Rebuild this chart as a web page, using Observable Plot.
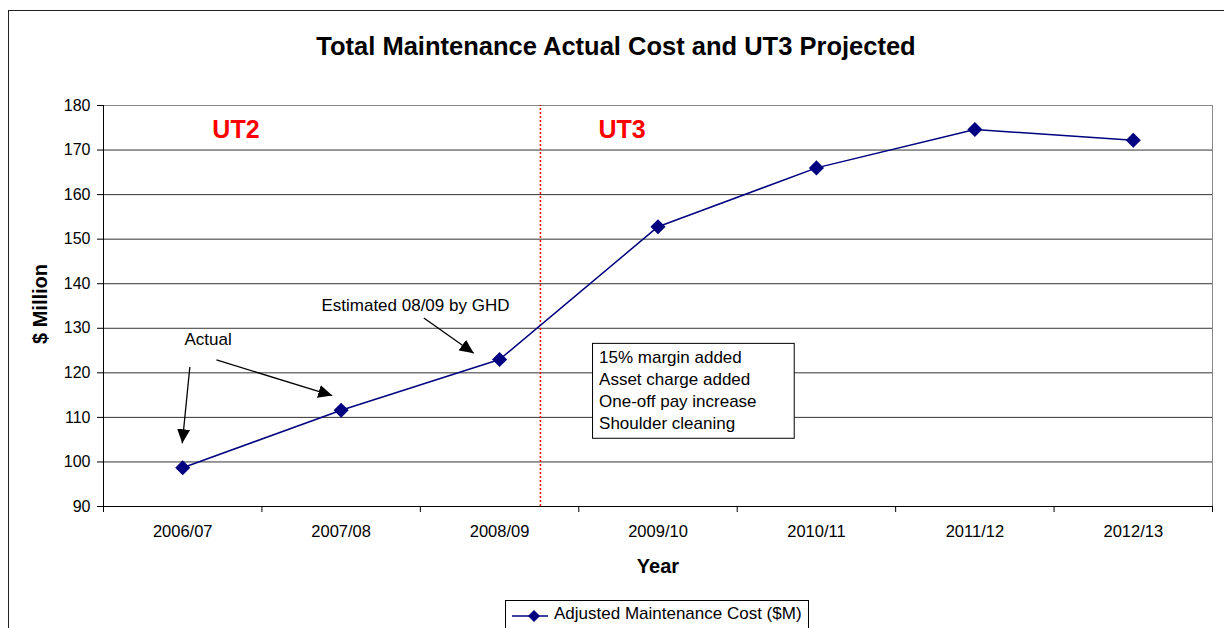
<!DOCTYPE html>
<html>
<head>
<meta charset="utf-8">
<script src="https://cdn.jsdelivr.net/npm/d3@7"></script>
<script src="https://cdn.jsdelivr.net/npm/@observablehq/plot@0.6"></script>
<style>
  html, body { margin: 0; padding: 0; background: #fff; }
  #wrap { position: relative; width: 1224px; height: 628px; overflow: hidden; background: #fff;
          font-family: "Liberation Sans", Arial, sans-serif; color: #000; }
  #chart { position: absolute; left: 0; top: 0; }
  .abs { position: absolute; white-space: nowrap; transform: translate(-50%, -50%); }
  #border { position: absolute; left: 8px; top: 10px; width: 1260px; height: 660px;
            border: 1.5px solid #222; pointer-events: none; z-index: 5; }
  #title { left: 616px; top: 46px; font-size: 25.5px; font-weight: bold; }
  #ylabel { left: 40px; top: 304px; font-size: 20px; font-weight: bold; transform: translate(-50%, -50%) rotate(-90deg); }
  #xlabel { left: 658px; top: 566px; font-size: 20px; font-weight: bold; }
  #legend { position: absolute; left: 505px; top: 600px; width: 302px; height: 40px; border: 1px solid #000;
            background: #fff; z-index: 6; }
  #legend svg { position: absolute; left: 6px; top: 6px; }
  #legend span { position: absolute; left: 48px; top: 3px; font-size: 17px; }
</style>
</head>
<body>
<div id="wrap">
  <div id="chart"></div>
  <div id="border"></div>
  <div class="abs" id="title">Total Maintenance Actual Cost and UT3 Projected</div>
  <div class="abs" id="ylabel">$ Million</div>
  <div class="abs" id="xlabel">Year</div>
  <div id="legend">
    <svg width="40" height="20"><line x1="0" y1="9" x2="36" y2="9" stroke="#000080" stroke-width="1.5"/><path d="M22,3L28,9L22,15L16,9Z" fill="#000080"/></svg>
    <span id="legendText"></span>
  </div>
</div>
<script>
// ---- data ----
const years = ["2006/07", "2007/08", "2008/09", "2009/10", "2010/11", "2011/12", "2012/13"];
const costs = [98.7, 111.6, 123.0, 152.8, 166.0, 174.6, 172.2];
const yTicks = [90, 100, 110, 120, 130, 140, 150, 160, 170, 180];
const seriesName = "Adjusted Maintenance Cost ($M)";
const periodLabels = ["UT2", "UT3"];
const boxLines = ["15% margin added", "Asset charge added", "One-off pay increase", "Shoulder cleaning"];
const arrowNotes = ["Actual", "Estimated 08/09 by GHD"];

document.getElementById("legendText").textContent = seriesName;

const data = years.map((y, i) => ({year: y, idx: i + 0.5, cost: costs[i]}));

// annotation placement (in chart coordinates)
const divider = 2.758;
const periodPos = [{x: 0.836, y: 174.4, t: periodLabels[0]}, {x: 3.273, y: 174.4, t: periodLabels[1]}];
const notePos = [{x: 0.66, y: 127.5, t: arrowNotes[0]}, {x: 1.969, y: 135.1, t: arrowNotes[1]}];
const arrows = [
  {x1: 0.545, y1: 121.3, x2: 0.497, y2: 104.2},
  {x1: 0.713, y1: 122.9, x2: 1.444, y2: 114.9},
  {x1: 2.022, y1: 132.3, x2: 2.337, y2: 124.4}
];
const box = {x1: 3.090, x2: 4.363, y1: 105.2, y2: 126.5};

function filledArrow(color, context) {
  const doc = (context && context.document) || document;
  const ns = "http://www.w3.org/2000/svg";
  const m = doc.createElementNS(ns, "marker");
  m.setAttribute("viewBox", "-14 -7 14 14");
  m.setAttribute("markerWidth", 14);
  m.setAttribute("markerHeight", 14);
  m.setAttribute("markerUnits", "userSpaceOnUse");
  m.setAttribute("orient", "auto");
  m.setAttribute("refX", 0);
  m.setAttribute("refY", 0);
  const p = doc.createElementNS(ns, "path");
  p.setAttribute("d", "M-14,-6.5L0,0L-14,6.5Z");
  p.setAttribute("fill", color);
  p.setAttribute("stroke", "none");
  m.appendChild(p);
  return m;
}

const chart = Plot.plot({
  width: 1224,
  height: 628,
  marginTop: 105,
  marginRight: 12,
  marginBottom: 122,
  marginLeft: 103,
  style: {fontFamily: "'Liberation Sans', Arial, sans-serif", fontSize: "16px", background: "transparent", overflow: "visible"},
  x: {type: "linear", domain: [0, 7]},
  y: {domain: [90, 180]},
  marks: [
    Plot.gridY(yTicks, {stroke: "#000", strokeOpacity: 0.8}),
    Plot.frame({stroke: "#888"}),
    Plot.ruleX([0], {stroke: "#000"}),
    Plot.ruleY([90], {stroke: "#000"}),
    Plot.axisY(yTicks, {tickSize: 6, tickPadding: 7, fontSize: 16, label: null, stroke: "#000"}),
    Plot.axisX(d3.range(8), {tickSize: 6, tickFormat: () => "", label: null, stroke: "#000"}),
    Plot.axisX(data.map(d => d.idx), {tickSize: 0, tickPadding: 19, fontSize: 16.5, label: null, tickFormat: d => years[Math.round(d - 0.5)]}),
    Plot.ruleX([divider], {y1: 90, y2: 180, stroke: "#ff0000", strokeWidth: 1.5, strokeDasharray: "2,2"}),
    Plot.text(periodPos, {x: "x", y: "y", text: "t", fill: "#ff0000", fontWeight: "bold", fontSize: 25}),
    Plot.line(data, {x: "idx", y: "cost", stroke: "#000080", strokeWidth: 1.5}),
    Plot.dot(data, {x: "idx", y: "cost", symbol: "diamond2", r: 6.8, fill: "#000080", stroke: "none"}),
    Plot.link(arrows, {x1: "x1", y1: "y1", x2: "x2", y2: "y2", stroke: "#000", strokeWidth: 1.3, markerEnd: filledArrow}),
    Plot.text(notePos, {x: "x", y: "y", text: "t", fontSize: 17, fill: "#000"}),
    Plot.rect([box], {x1: "x1", x2: "x2", y1: "y1", y2: "y2", fill: "#fff", stroke: "#000", strokeWidth: 1}),
    Plot.text([boxLines.join("\n")], {x: 3.128, y: 116.4, textAnchor: "start", lineAnchor: "middle", lineHeight: 1.3, fontSize: 17, fill: "#000"})
  ]
});
document.getElementById("chart").appendChild(chart);
</script>
</body>
</html>
